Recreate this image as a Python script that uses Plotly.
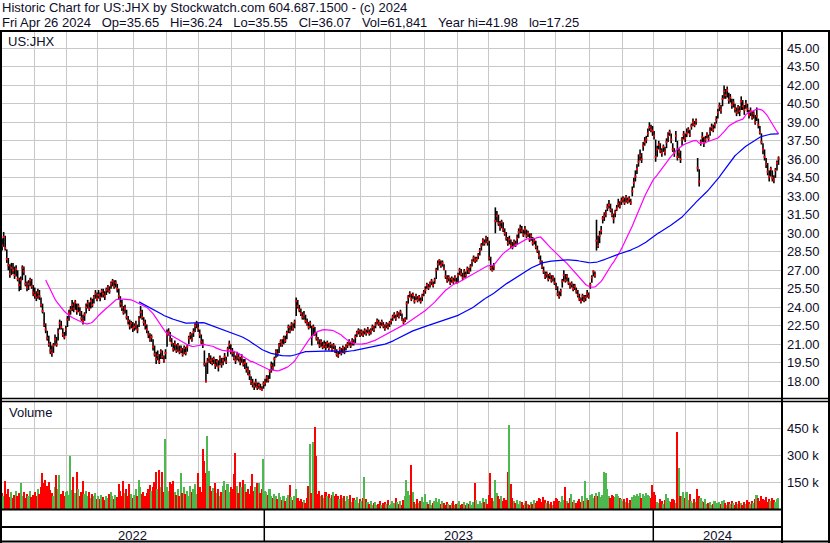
import pandas as pd
import plotly.graph_objects as go

W, H = 830, 543

header1 = "Historic Chart for US:JHX by Stockwatch.com 604.687.1500 - (c) 2024"
header2 = ("Fri Apr 26 2024\u00a0\u00a0 Op=35.65\u00a0\u00a0 Hi=36.24\u00a0\u00a0 Lo=35.55\u00a0\u00a0 "
           "Cl=36.07\u00a0\u00a0 Vol=61,841\u00a0\u00a0 Year hi=41.98\u00a0\u00a0 lo=17.25")
symbol = "US:JHX"

# daily bars, one inner list per month (Apr 2022 .. Apr 2024)
months = ["2022-04", "2022-05", "2022-06", "2022-07", "2022-08", "2022-09", "2022-10", "2022-11",
          "2022-12", "2023-01", "2023-02", "2023-03", "2023-04", "2023-05", "2023-06", "2023-07",
          "2023-08", "2023-09", "2023-10", "2023-11", "2023-12", "2024-01", "2024-02", "2024-03",
          "2024-04"]

close_m = [
    [29.3],
    [29.0, 29.7, 28.8, 27.9, 27.4, 26.7, 27.2, 27.0, 26.6, 27.1, 26.3, 25.8, 26.2, 27.2, 26.9, 25.9, 25.6, 25.9, 26.2, 25.7, 25.2],
    [25.0, 24.8, 25.2, 24.9, 24.2, 23.7, 22.6, 22.2, 21.5, 21.0, 20.5, 20.3, 20.9, 21.4, 21.0, 22.0, 22.7, 22.4, 21.8, 21.6, 22.2],
    [23.0, 23.5, 23.8, 24.2, 23.9, 24.4, 23.7, 24.1, 23.6, 23.1, 22.9, 23.4, 24.0, 24.3, 23.9, 24.5, 24.2, 24.8, 25.1, 24.7],
    [25.0, 24.8, 25.3, 25.1, 24.9, 25.4, 25.6, 25.3, 25.9, 26.1, 25.7, 26.0, 25.5, 24.9, 24.3, 24.0, 23.6, 23.9, 23.2, 22.9, 22.5, 22.7, 22.3],
    [22.4, 22.6, 22.2, 23.0, 23.6, 23.2, 22.8, 22.6, 22.2, 21.8, 21.4, 21.6, 20.8, 20.2, 19.8, 20.1, 19.6, 20.4, 20.0, 19.7, 20.3],
    [21.8, 22.0, 21.4, 21.1, 20.6, 21.0, 20.5, 20.9, 20.4, 20.6, 20.2, 20.7, 20.3, 20.8, 21.5, 21.8, 21.4, 22.0, 22.5, 22.7, 22.3],
    [21.8, 21.2, 21.0, 19.4, 18.0, 19.6, 19.9, 19.7, 19.5, 19.8, 19.3, 19.6, 19.2, 19.9, 19.4, 19.7, 20.0, 19.6, 20.6, 21.0, 20.5],
    [20.3, 19.9, 19.7, 20.1, 19.9, 19.6, 19.9, 19.4, 19.5, 19.0, 18.8, 18.5, 18.0, 17.8, 17.6, 17.9, 17.5, 17.7, 17.4, 17.3, 17.8],
    [17.9, 18.3, 18.1, 18.8, 19.3, 19.1, 19.8, 20.4, 20.2, 20.9, 21.2, 21.0, 21.5, 21.3, 21.9, 22.4, 22.1, 22.6, 22.3, 22.8],
    [24.5, 24.1, 23.8, 23.5, 23.2, 23.4, 22.9, 22.7, 22.4, 22.7, 21.6, 22.4, 21.9, 21.5, 21.3, 20.9, 21.2, 20.8, 21.0],
    [20.8, 21.1, 20.7, 21.0, 20.6, 20.9, 20.5, 20.2, 20.1, 20.6, 20.3, 20.7, 20.4, 20.8, 21.0, 21.2, 20.9, 21.3, 21.1, 21.6, 21.9, 22.1, 21.8],
    [22.0, 21.8, 22.1, 21.9, 22.2, 21.9, 22.1, 22.4, 22.2, 22.6, 22.9, 22.7, 22.5, 22.8, 22.5, 22.3, 22.6, 22.4, 22.7],
    [22.9, 23.2, 23.4, 23.1, 23.5, 23.3, 23.6, 23.0, 22.8, 23.0, 24.3, 24.8, 25.1, 24.7, 25.0, 24.5, 24.9, 24.6, 24.8, 24.5, 24.9, 25.2],
    [25.4, 25.8, 25.6, 25.9, 26.1, 25.8, 26.2, 27.0, 27.5, 27.8, 27.4, 27.6, 27.1, 26.5, 26.2, 26.4, 26.0, 26.3, 26.1, 26.4, 26.0],
    [26.6, 27.0, 26.7, 26.4, 26.9, 26.6, 27.1, 26.9, 27.3, 27.7, 28.0, 27.8, 27.9, 28.2, 28.6, 29.0, 29.4, 29.2, 29.6, 29.3],
    [28.0, 27.2, 27.0, 27.3, 31.0, 31.4, 30.8, 30.5, 30.9, 30.3, 30.0, 29.6, 29.2, 29.5, 29.0, 28.9, 29.3, 29.1, 29.6, 30.1, 30.4, 30.2, 29.9],
    [30.3, 29.8, 30.0, 29.5, 29.8, 29.2, 29.4, 28.9, 28.6, 28.2, 27.7, 27.3, 26.9, 26.5, 26.7, 26.3, 26.6, 26.2, 26.4, 26.0],
    [25.6, 25.1, 24.9, 25.3, 26.1, 26.6, 26.2, 26.5, 26.0, 25.7, 25.9, 25.5, 25.7, 25.3, 25.0, 24.7, 24.5, 24.9, 24.6, 24.8, 25.1, 24.9],
    [25.8, 26.4, 26.9, 26.6, 29.4, 29.0, 29.8, 30.2, 31.2, 31.4, 31.6, 32.1, 32.3, 31.9, 31.5, 31.2, 31.7, 32.0, 32.4, 32.2, 32.6],
    [32.8, 32.5, 32.9, 32.6, 32.8, 32.5, 33.4, 34.1, 34.6, 35.2, 35.8, 36.3, 36.0, 37.1, 37.4, 37.6, 38.1, 38.6, 38.4, 38.3],
    [37.9, 36.2, 36.8, 37.2, 36.7, 36.5, 37.0, 36.6, 37.4, 37.9, 38.2, 37.6, 36.8, 36.5, 37.9, 36.2, 36.6, 36.0, 37.6, 38.0, 37.7],
    [38.1, 38.4, 38.0, 38.7, 39.0, 38.8, 39.1, 35.3, 34.2, 37.4, 37.8, 37.3, 37.6, 38.0, 37.7, 38.3, 38.6, 38.4, 38.8, 39.2],
    [39.8, 40.3, 40.0, 40.9, 41.5, 41.2, 41.6, 40.8, 41.0, 40.4, 40.6, 40.1, 39.8, 40.2, 39.9, 40.7, 40.3, 40.0, 40.5, 40.1],
    [39.6, 39.9, 39.4, 39.7, 39.0, 39.5, 38.8, 38.2, 37.4, 36.8, 36.2, 35.6, 35.0, 34.6, 35.2, 34.5, 34.3, 35.1, 35.7, 36.07],
]

high_m = [
    [30.0],
    [29.6, 30.1, 29.8, 28.7, 28.0, 27.5, 27.6, 27.6, 27.3, 27.4, 27.0, 26.4, 26.5, 27.4, 27.3, 26.6, 26.1, 26.2, 26.4, 26.3, 25.8],
    [25.6, 25.3, 25.5, 25.4, 24.8, 24.3, 23.6, 22.7, 22.1, 21.7, 21.2, 20.9, 21.1, 21.8, 21.6, 22.3, 23.0, 22.9, 22.3, 22.0, 22.5],
    [23.3, 23.8, 24.1, 24.6, 24.4, 24.6, 24.3, 24.3, 24.0, 23.7, 23.4, 23.6, 24.3, 24.6, 24.4, 24.8, 24.7, 25.0, 25.4, 25.2],
    [25.4, 25.2, 25.5, 25.5, 25.3, 25.6, 25.8, 25.7, 26.1, 26.3, 26.2, 26.2, 25.9, 25.5, 24.9, 24.6, 24.1, 24.2, 23.8, 23.3, 23.0, 22.9, 22.8],
    [22.7, 22.9, 22.6, 23.3, 24.1, 23.8, 23.2, 23.0, 22.6, 22.1, 21.9, 21.8, 21.4, 20.9, 20.4, 20.5, 20.2, 20.6, 20.5, 20.1, 20.6],
    [22.2, 22.3, 22.0, 21.5, 21.1, 21.3, 21.0, 21.1, 20.9, 20.9, 20.7, 20.9, 20.8, 21.0, 21.7, 22.0, 21.9, 22.3, 22.7, 22.9, 22.7],
    [22.2, 21.8, 21.4, 20.5, 19.5, 19.9, 20.3, 20.1, 19.9, 20.0, 19.8, 19.8, 19.7, 20.1, 19.9, 19.9, 20.3, 20.0, 20.8, 21.3, 21.0],
    [20.7, 20.4, 20.1, 20.4, 20.3, 20.0, 20.2, 19.8, 19.8, 19.5, 19.2, 18.9, 18.4, 18.2, 17.9, 18.2, 17.9, 17.9, 17.8, 17.6, 18.0],
    [18.2, 18.5, 18.5, 19.0, 19.6, 19.5, 20.0, 20.6, 20.6, 21.1, 21.4, 21.4, 21.7, 21.7, 22.1, 22.6, 22.5, 22.8, 22.7, 23.0],
    [24.8, 24.6, 24.2, 23.9, 23.6, 23.7, 23.4, 23.1, 22.8, 22.9, 22.5, 22.6, 22.4, 22.0, 21.6, 21.4, 21.4, 21.2, 21.3],
    [21.2, 21.3, 21.1, 21.2, 21.0, 21.1, 20.9, 20.6, 20.4, 20.8, 20.7, 20.9, 20.8, 21.0, 21.2, 21.4, 21.2, 21.5, 21.4, 21.8, 22.1, 22.3, 22.2],
    [22.2, 22.1, 22.3, 22.2, 22.4, 22.2, 22.3, 22.6, 22.5, 22.8, 23.1, 23.0, 22.8, 23.0, 22.8, 22.6, 22.8, 22.7, 22.9],
    [23.1, 23.4, 23.6, 23.4, 23.7, 23.6, 23.8, 23.5, 23.1, 23.2, 24.5, 25.0, 25.3, 25.1, 25.2, 24.9, 25.1, 24.9, 25.0, 24.8, 25.1, 25.4],
    [25.7, 26.0, 25.9, 26.1, 26.3, 26.1, 26.4, 27.2, 27.8, 27.9, 27.8, 27.8, 27.5, 27.0, 26.6, 26.6, 26.4, 26.5, 26.4, 26.6, 26.4],
    [26.8, 27.2, 27.1, 26.8, 27.1, 26.9, 27.3, 27.2, 27.5, 27.9, 28.2, 28.1, 28.1, 28.4, 28.8, 29.2, 29.6, 29.5, 29.8, 29.7],
    [29.4, 28.1, 27.4, 27.6, 32.1, 31.8, 31.5, 31.0, 31.1, 30.9, 30.4, 30.1, 29.7, 29.8, 29.5, 29.3, 29.5, 29.4, 29.9, 30.4, 30.7, 30.6, 30.3],
    [30.6, 30.3, 30.2, 30.0, 30.0, 29.7, 29.6, 29.4, 29.0, 28.6, 28.2, 27.8, 27.3, 26.9, 26.9, 26.7, 26.8, 26.6, 26.6, 26.4],
    [26.0, 25.7, 25.3, 25.5, 26.3, 27.0, 26.7, 26.7, 26.4, 26.0, 26.1, 25.9, 25.9, 25.6, 25.4, 25.1, 24.8, 25.1, 25.0, 25.0, 25.4, 25.2],
    [26.0, 26.6, 27.0, 26.9, 31.1, 29.8, 30.2, 30.6, 31.4, 31.7, 31.9, 32.4, 32.7, 32.4, 32.0, 31.6, 31.9, 32.3, 32.8, 32.6, 32.9],
    [33.0, 32.9, 33.1, 32.9, 33.0, 32.8, 33.8, 34.5, 35.1, 35.6, 36.4, 36.8, 36.5, 37.4, 37.8, 37.9, 38.5, 39.0, 38.8, 38.7],
    [38.3, 37.6, 37.1, 37.5, 37.3, 36.9, 37.2, 37.0, 37.7, 38.2, 38.4, 38.1, 37.3, 36.9, 38.3, 37.5, 36.9, 36.7, 37.8, 38.3, 38.1],
    [38.5, 38.6, 38.4, 38.9, 39.3, 39.1, 39.3, 36.1, 35.2, 37.6, 38.2, 37.8, 37.9, 38.2, 38.0, 38.6, 38.9, 38.8, 39.0, 39.5],
    [40.1, 40.6, 40.4, 41.2, 41.98, 41.7, 41.9, 41.4, 41.3, 40.9, 40.9, 40.5, 40.2, 40.4, 40.3, 41.1, 40.8, 40.4, 40.8, 40.5],
    [40.0, 40.2, 39.9, 39.9, 39.6, 40.2, 39.3, 38.7, 38.1, 37.3, 36.8, 36.1, 35.7, 35.1, 35.4, 35.1, 34.7, 35.3, 35.9, 36.24],
]

low_m = [
    [28.9],
    [28.6, 28.9, 28.6, 27.6, 27.0, 26.4, 26.6, 26.7, 26.3, 26.5, 26.1, 25.3, 25.4, 26.2, 26.6, 25.7, 25.3, 25.4, 25.7, 25.5, 24.9],
    [24.7, 24.5, 24.7, 24.6, 24.0, 23.5, 22.4, 21.9, 21.3, 20.8, 20.2, 20.0, 20.3, 20.9, 20.8, 21.3, 22.2, 22.2, 21.6, 21.4, 21.7],
    [22.4, 22.9, 23.4, 23.7, 23.6, 23.8, 23.4, 23.6, 23.3, 22.9, 22.6, 22.9, 23.5, 23.9, 23.7, 23.9, 24.0, 24.3, 24.7, 24.5],
    [24.7, 24.5, 24.8, 24.8, 24.6, 25.0, 25.2, 25.1, 25.5, 25.7, 25.5, 25.6, 25.2, 24.6, 24.0, 23.7, 23.4, 23.5, 23.0, 22.6, 22.2, 22.3, 22.0],
    [22.1, 22.2, 21.9, 22.4, 23.1, 23.0, 22.5, 22.2, 21.9, 21.5, 21.2, 21.2, 20.5, 20.0, 19.4, 19.7, 19.4, 19.8, 19.8, 19.5, 19.8],
    [20.8, 21.7, 21.2, 20.8, 20.4, 20.5, 20.3, 20.4, 20.2, 20.3, 20.0, 20.2, 20.1, 20.4, 21.0, 21.4, 21.2, 21.6, 22.0, 22.3, 22.0],
    [21.5, 21.0, 20.7, 19.2, 17.9, 18.6, 19.5, 19.4, 19.3, 19.4, 19.0, 19.2, 18.8, 19.3, 19.1, 19.3, 19.6, 19.4, 20.0, 20.6, 20.2],
    [20.0, 19.7, 19.4, 19.7, 19.6, 19.3, 19.5, 19.2, 19.0, 18.7, 18.5, 18.1, 17.7, 17.5, 17.3, 17.5, 17.3, 17.4, 17.3, 17.25, 17.4],
    [17.6, 17.9, 17.9, 18.2, 18.7, 18.9, 19.2, 19.9, 20.0, 20.3, 20.8, 20.8, 21.0, 21.1, 21.4, 21.9, 21.9, 22.1, 22.1, 22.3],
    [23.3, 23.9, 23.6, 23.3, 23.0, 23.0, 22.7, 22.5, 22.2, 22.3, 20.9, 21.7, 21.7, 21.3, 21.0, 20.7, 20.8, 20.6, 20.7],
    [20.5, 20.7, 20.5, 20.7, 20.4, 20.6, 20.3, 20.0, 19.9, 20.2, 20.1, 20.3, 20.2, 20.5, 20.7, 20.9, 20.7, 20.9, 20.9, 21.1, 21.6, 21.8, 21.6],
    [21.7, 21.6, 21.8, 21.7, 21.9, 21.7, 21.8, 22.1, 22.0, 22.3, 22.6, 22.5, 22.3, 22.5, 22.3, 22.1, 22.3, 22.2, 22.4],
    [22.6, 22.9, 23.1, 22.9, 23.2, 23.1, 23.3, 22.9, 22.6, 22.8, 23.0, 24.3, 24.8, 24.5, 24.7, 24.3, 24.6, 24.4, 24.5, 24.3, 24.5, 24.9],
    [25.1, 25.5, 25.4, 25.6, 25.8, 25.6, 25.9, 26.3, 27.0, 27.4, 27.2, 27.3, 27.0, 26.3, 26.0, 26.1, 25.8, 26.0, 25.9, 26.1, 25.9],
    [26.0, 26.6, 26.5, 26.2, 26.4, 26.4, 26.7, 26.7, 26.9, 27.3, 27.7, 27.6, 27.7, 27.9, 28.2, 28.6, 29.0, 29.0, 29.2, 29.0],
    [27.8, 27.0, 26.9, 27.0, 30.0, 30.9, 30.6, 30.2, 30.4, 30.1, 29.8, 29.4, 29.0, 29.1, 28.8, 28.7, 28.9, 28.9, 29.1, 29.6, 30.0, 30.0, 29.7],
    [29.9, 29.6, 29.7, 29.3, 29.4, 29.0, 29.1, 28.7, 28.4, 27.9, 27.5, 27.1, 26.7, 26.3, 26.4, 26.1, 26.3, 26.0, 26.1, 25.8],
    [25.4, 24.9, 24.7, 24.9, 25.6, 26.1, 26.0, 26.1, 25.8, 25.5, 25.6, 25.3, 25.4, 25.1, 24.8, 24.5, 24.3, 24.5, 24.4, 24.5, 24.8, 24.7],
    [25.5, 26.0, 26.5, 26.4, 28.6, 28.8, 29.2, 29.9, 30.8, 31.0, 31.3, 31.8, 32.0, 31.7, 31.3, 30.8, 31.3, 31.8, 32.1, 32.0, 32.3],
    [32.5, 32.3, 32.5, 32.4, 32.5, 32.3, 33.0, 33.7, 34.2, 34.8, 35.4, 35.9, 35.7, 36.7, 37.1, 37.3, 37.8, 38.3, 38.2, 37.9],
    [37.6, 35.8, 36.2, 36.8, 36.5, 36.2, 36.6, 36.3, 36.9, 37.4, 37.9, 37.3, 36.6, 36.2, 37.4, 35.9, 36.1, 35.7, 37.1, 37.6, 37.4],
    [37.8, 38.1, 37.8, 38.4, 38.7, 38.6, 38.8, 35.0, 33.8, 37.1, 37.4, 37.0, 37.3, 37.7, 37.5, 37.9, 38.3, 38.2, 38.5, 38.9],
    [39.3, 39.9, 39.7, 40.3, 40.9, 40.9, 41.0, 40.5, 40.6, 40.1, 40.2, 39.8, 39.5, 39.7, 39.5, 40.0, 40.0, 39.6, 40.1, 39.8],
    [39.3, 39.5, 39.2, 39.3, 38.8, 39.1, 38.5, 38.0, 37.2, 36.4, 35.9, 35.3, 34.7, 34.2, 34.6, 34.2, 34.05, 34.5, 35.1, 35.55],
]

# volume in thousands of shares
vol_m = [
    [75],
    [90, 70, 157, 85, 110, 65, 95, 60, 80, 100, 75, 90, 144, 70, 95, 60, 85, 75, 100, 65, 80],
    [95, 70, 110, 85, 120, 200, 145, 160, 130, 150, 105, 90, 75, 120, 190, 110, 190, 85, 100, 70, 95],
    [100, 80, 296, 105, 181, 90, 205, 110, 75, 95, 157, 85, 100, 70, 95, 60, 85, 75, 90, 55],
    [70, 55, 80, 65, 50, 75, 60, 85, 95, 70, 55, 80, 65, 139, 100, 75, 157, 90, 110, 70, 140, 85, 60],
    [80, 110, 70, 163, 120, 85, 95, 70, 90, 110, 135, 100, 125, 150, 209, 110, 218, 120, 205, 95, 390],
    [120, 100, 150, 140, 155, 95, 80, 110, 70, 200, 90, 120, 85, 100, 75, 130, 95, 110, 140, 85, 200],
    [120, 95, 333, 268, 200, 407, 210, 130, 100, 115, 144, 90, 110, 75, 95, 130, 154, 105, 140, 95, 120],
    [110, 196, 311, 130, 90, 150, 120, 160, 140, 95, 110, 85, 130, 196, 100, 120, 144, 145, 90, 110, 280],
    [100, 95, 80, 110, 70, 60, 85, 75, 55, 90, 65, 50, 70, 45, 60, 80, 135, 65, 50, 70],
    [110, 60, 45, 55, 40, 50, 35, 60, 130, 363, 90, 376, 457, 293, 85, 100, 70, 80, 60],
    [95, 70, 85, 60, 80, 95, 75, 85, 70, 55, 80, 60, 75, 45, 70, 55, 80, 40, 60, 50, 65, 35, 55],
    [45, 60, 176, 55, 40, 30, 45, 25, 35, 40, 20, 30, 45, 25, 35, 40, 30, 50, 25],
    [30, 45, 35, 60, 40, 30, 45, 25, 50, 70, 163, 100, 80, 246, 93, 40, 30, 55, 35, 45, 65, 40],
    [85, 40, 30, 50, 25, 35, 45, 60, 40, 55, 30, 45, 35, 25, 40, 30, 20, 35, 45, 25, 30],
    [35, 45, 25, 30, 40, 20, 35, 30, 45, 25, 40, 144, 50, 30, 45, 35, 60, 40, 55, 30],
    [80, 200, 60, 45, 163, 90, 70, 55, 75, 45, 60, 50, 204, 469, 141, 60, 45, 35, 50, 30, 45, 40, 25],
    [35, 45, 30, 25, 40, 30, 50, 35, 45, 60, 55, 40, 65, 50, 35, 45, 30, 40, 25, 45],
    [60, 55, 45, 40, 75, 50, 120, 45, 35, 60, 85, 40, 50, 35, 45, 55, 40, 70, 45, 157, 60, 50],
    [80, 85, 60, 70, 90, 75, 95, 65, 80, 205, 198, 110, 70, 60, 80, 75, 65, 85, 70, 60, 55],
    [45, 55, 40, 60, 35, 50, 65, 80, 75, 85, 70, 90, 60, 85, 75, 90, 80, 70, 60, 135],
    [95, 80, 40, 35, 55, 45, 30, 50, 85, 60, 45, 40, 55, 50, 35, 431, 231, 70, 75, 95, 60],
    [93, 50, 83, 45, 35, 55, 40, 113, 70, 60, 45, 40, 55, 30, 35, 40, 25, 30, 45, 35],
    [35, 40, 30, 45, 50, 35, 25, 40, 30, 45, 35, 25, 40, 30, 45, 35, 20, 40, 30, 50],
    [40, 30, 45, 35, 55, 80, 60, 45, 70, 55, 50, 65, 40, 55, 45, 60, 50, 40, 55, 62],
]

price_ticks = [18.0, 19.5, 21.0, 22.5, 24.0, 25.5, 27.0, 28.5, 30.0, 31.5, 33.0, 34.5,
               36.0, 37.5, 39.0, 40.5, 42.0, 43.5, 45.0]
vol_ticks = [150, 300, 450]
years = ["2022", "2023", "2024"]

# moving-average windows (days)
ma_short, ma_long = 30, 90

# ---- flatten month lists -------------------------------------------------
idx, cl, hi, lo, vol, month_start = [], [], [], [], [], []
for c_m, h_m, l_m, v_m in zip(close_m, high_m, low_m, vol_m):
    n = min(len(c_m), len(h_m), len(l_m), len(v_m))
    month_start.append(len(cl))
    for k in range(n):
        idx.append(len(cl))
        cl.append(c_m[k])
        hi.append(h_m[k])
        lo.append(l_m[k])
        vol.append(v_m[k])

s = pd.Series(cl)
ma1 = s.rolling(ma_short).mean()
ma2 = s.rolling(ma_long).mean()

vol_col = []
for k in range(len(cl)):
    if k == 0 or cl[k] == cl[k - 1]:
        vol_col.append("#a8a8a8")
    elif cl[k] > cl[k - 1]:
        vol_col.append("#4db84d")
    else:
        vol_col.append("#ff0000")

bar_x, bar_y = [], []
for k in range(len(cl)):
    bar_x += [idx[k], idx[k], None]
    bar_y += [lo[k], hi[k], None]

month_lines = [m - 0.5 for m in month_start[1:]]
year_start = [month_start[i] for i, m in enumerate(months) if m.endswith("-01")]
year_lines = [y - 0.5 for y in year_start]

# ---- pixel geometry --------------------------------------------------------
def px(x):
    return x / W


def py(y):
    return 1 - y / H


x0_px, dx = 0.55, 1.556
plot_right = 781
x_range = [(0 - x0_px) / dx, (plot_right - x0_px) / dx]
year_bounds = [x_range[0]] + year_lines + [x_range[1]]

FONT = "Liberation Sans, Arial, sans-serif"
TXT = "#0d0d2a"
GRID = "#c8c8c8"

fig = go.Figure()
fig.add_trace(go.Scatter(x=bar_x, y=bar_y, mode="lines", line=dict(color="black", width=1.6),
                         hoverinfo="skip", xaxis="x", yaxis="y"))
fig.add_trace(go.Scatter(x=idx, y=cl, mode="markers",
                         marker=dict(symbol="square", size=2, color="#ff0000", line=dict(width=0)),
                         xaxis="x", yaxis="y"))
fig.add_trace(go.Scatter(x=idx, y=ma1, mode="lines", line=dict(color="#ff00ff", width=1.2),
                         xaxis="x", yaxis="y"))
fig.add_trace(go.Scatter(x=idx, y=ma2, mode="lines", line=dict(color="#0000ff", width=1.2),
                         xaxis="x", yaxis="y"))
fig.add_trace(go.Bar(x=idx, y=vol, width=1.0, marker=dict(color=vol_col, line=dict(width=0)),
                     xaxis="x2", yaxis="y2"))

axis_common = dict(showgrid=True, gridcolor=GRID, gridwidth=1, zeroline=False,
                   showline=False, ticks="", fixedrange=True)

fig.update_layout(
    width=W, height=H,
    margin=dict(l=0, r=0, t=0, b=0),
    paper_bgcolor="white", plot_bgcolor="white",
    showlegend=False, bargap=0,
    xaxis=dict(domain=[0, px(plot_right)], range=x_range, tickvals=month_lines,
               showticklabels=False, anchor="y", **axis_common),
    yaxis=dict(domain=[py(398), py(32)], range=[16.646, 46.32], side="right",
               tickvals=price_ticks, ticktext=[f"{t:.2f}" for t in price_ticks],
               tickfont=dict(family=FONT, size=13, color=TXT), ticklabelstandoff=5,
               anchor="x", **axis_common),
    xaxis2=dict(domain=[0, px(plot_right)], range=x_range, tickvals=month_lines,
                showticklabels=False, anchor="y2", matches="x", **axis_common),
    yaxis2=dict(domain=[py(509), py(402)], range=[0, 596.7], side="right",
                tickvals=vol_ticks, ticktext=[f"{t} k" for t in vol_ticks],
                tickfont=dict(family=FONT, size=13, color=TXT), ticklabelstandoff=5,
                anchor="x2", **axis_common),
)

# frame lines
def hline(y, x1, x2, w=2):
    fig.add_shape(type="line", xref="paper", yref="paper", x0=px(x1), x1=px(x2),
                  y0=py(y), y1=py(y), line=dict(color="black", width=w), layer="above")


def vline(x, y1, y2, w=2):
    fig.add_shape(type="line", xref="paper", yref="paper", x0=px(x), x1=px(x),
                  y0=py(y1), y1=py(y2), line=dict(color="black", width=w), layer="above")


hline(31, 0, W)
hline(398.5, 0, W, 1.5)
hline(401.5, 0, W, 1.5)
hline(509.5, 0, plot_right + 1)
hline(527, 0, plot_right + 1)
hline(541.5, 0, W)
vline(1, 30, 543)
vline(829, 30, 543)
vline(plot_right + 1, 30, 543)

for yl in year_lines:
    fig.add_shape(type="line", xref="x2", yref="paper", x0=yl, x1=yl, y0=py(509.5), y1=py(541.5),
                  line=dict(color="black", width=1.5), layer="above")

for k, yr in enumerate(years):
    fig.add_annotation(x=(year_bounds[k] + year_bounds[k + 1]) / 2, y=py(535), xref="x2", yref="paper",
                       text=yr, showarrow=False, xanchor="center", yanchor="middle",
                       font=dict(family=FONT, size=13, color=TXT))


def label(text, x, y):
    fig.add_annotation(x=px(x), y=py(y), xref="paper", yref="paper", text=text, showarrow=False,
                       xanchor="left", yanchor="middle", font=dict(family=FONT, size=13, color=TXT))


label(header1, 0, 8)
label(header2, 0, 22)
label(symbol, 6, 41)
label("Volume", 7, 413)

# page body has a default 8px margin; drop it so the figure sits at the window origin
fig.write_html("out.html", config={"displayModeBar": False},
               post_script="document.body.style.margin='0';document.body.style.overflow='hidden';")
